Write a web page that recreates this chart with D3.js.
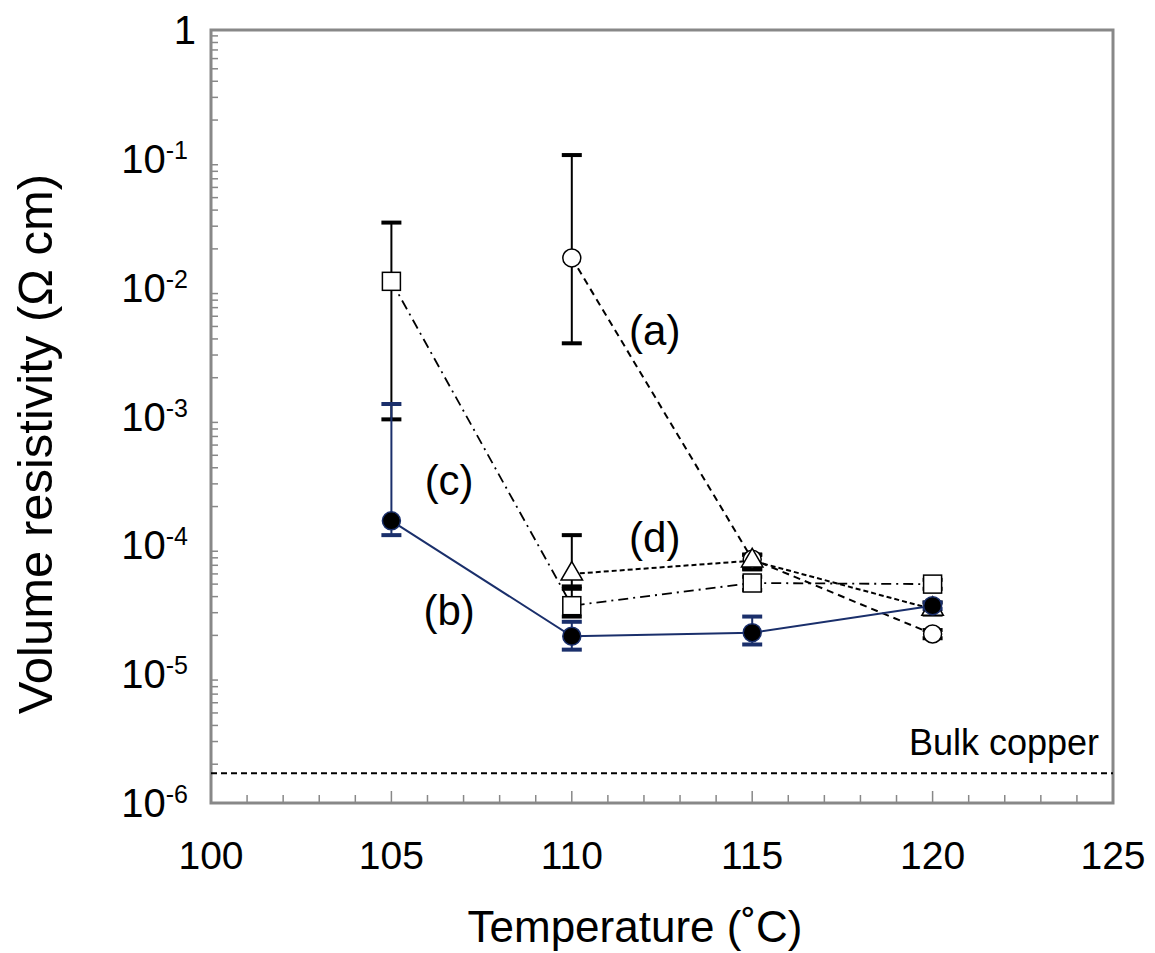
<!DOCTYPE html>
<html>
<head>
<meta charset="utf-8">
<script src="https://cdn.jsdelivr.net/npm/d3@7"></script>
<style>
  body { margin: 0; background: #fff; }
  text { font-family: "Liberation Sans", Arial, sans-serif; fill: #000; }
</style>
</head>
<body>
<div id="chart"></div>
<script>
// data
const temps = [105, 110, 115, 120];
const seriesA = [null, 1.7e-2, 7.8e-5, 2.05e-5];
const errA = [null, [3.7e-3, 0.107], [6.6e-5, 8.4e-5], [1.9e-5, 2.2e-5]];
const seriesB = [1.55e-4, 1.97e-5, 2.1e-5, 3.4e-5];
const errB = [[1.2e-4, 1.25e-3], [1.55e-5, 2.55e-5], [1.7e-5, 2.8e-5], [3.2e-5, 3.6e-5]];
const seriesC = [1.12e-2, 3.4e-5, 5.1e-5, 5.0e-5];
const errC = [[9.5e-4, 3.2e-2], [2.8e-5, 4.6e-5], [4.5e-5, 5.7e-5], [4.6e-5, 5.4e-5]];
const seriesD = [null, 6.0e-5, 7.6e-5, 3.2e-5];
const errD = [null, [4.8e-5, 1.2e-4], [6.5e-5, 8.5e-5], [2.9e-5, 3.6e-5]];
const bulkCopper = 1.7e-6;
const xTicks = [100, 105, 110, 115, 120, 125];
const yTicks = [1, 1e-1, 1e-2, 1e-3, 1e-4, 1e-5, 1e-6];
const yTickExp = ["", "-1", "-2", "-3", "-4", "-5", "-6"];
const labels = [
  {t: "(a)", x: 112.3, y: 3.6e-3},
  {t: "(d)", x: 112.3, y: 8.9e-5},
  {t: "(c)", x: 106.6, y: 2.45e-4},
  {t: "(b)", x: 106.6, y: 2.4e-5}
];

const W = 1155, H = 953;
const margin = {top: 30, right: 42, bottom: 150, left: 211};
const width = W - margin.left - margin.right,
      height = H - margin.top - margin.bottom;

const svg = d3.select("#chart").append("svg")
  .attr("width", W).attr("height", H);
const g = svg.append("g")
  .attr("transform", "translate(" + margin.left + "," + margin.top + ")");

const x = d3.scaleLinear().domain([100, 125]).range([0, width]);
const y = d3.scaleLog().domain([1e-6, 1]).range([height, 0]);

// minor ticks, inside
const minorX = d3.range(101, 125).filter(v => v % 5 != 0);
g.selectAll("line.mx").data(minorX).enter().append("line")
  .attr("x1", d => x(d)).attr("x2", d => x(d))
  .attr("y1", height).attr("y2", height - 8)
  .attr("stroke", "#888").attr("stroke-width", 1.5);
g.selectAll("line.Mx").data(xTicks.slice(1, -1)).enter().append("line")
  .attr("x1", d => x(d)).attr("x2", d => x(d))
  .attr("y1", height).attr("y2", height - 12)
  .attr("stroke", "#888").attr("stroke-width", 1.5);

const minorY = [];
for (let e = -6; e < 0; e++) for (let m = 2; m <= 9; m++) minorY.push(m * Math.pow(10, e));
g.selectAll("line.my").data(minorY).enter().append("line")
  .attr("x1", 0).attr("x2", 7)
  .attr("y1", d => y(d)).attr("y2", d => y(d))
  .attr("stroke", "#888").attr("stroke-width", 1.5);

// frame
g.append("rect").attr("x", 0).attr("y", 0)
  .attr("width", width).attr("height", height)
  .attr("fill", "none").attr("stroke", "#888").attr("stroke-width", 3);

// tick labels
g.selectAll("text.xt").data(xTicks).enter().append("text")
  .attr("x", d => x(d)).attr("y", height + 66)
  .attr("text-anchor", "middle").attr("font-size", 39)
  .text(d => d);

const yl = g.selectAll("text.yt").data(yTicks).enter().append("text")
  .attr("x", d => d == 1 ? -15 : -23).attr("y", d => y(d) + 14)
  .attr("text-anchor", "end").attr("font-size", 40);
yl.each(function(d, i) {
  const t = d3.select(this);
  if (i == 0) { t.text("1"); return; }
  t.append("tspan").text("10");
  t.append("tspan").attr("font-size", 25).attr("dy", -14).text(yTickExp[i]);
});

// axis titles
svg.append("text")
  .attr("x", 635).attr("y", 942)
  .attr("text-anchor", "middle").attr("font-size", 44)
  .text("Temperature (˚C)");
svg.append("text")
  .attr("transform", "translate(52,444) rotate(-90)")
  .attr("text-anchor", "middle").attr("font-size", 49)
  .text("Volume resistivity (Ω cm)");

// bulk copper
g.append("line")
  .attr("x1", 0).attr("x2", width)
  .attr("y1", y(bulkCopper)).attr("y2", y(bulkCopper))
  .attr("stroke", "#000").attr("stroke-width", 2).attr("stroke-dasharray", "6,4");
g.append("text")
  .attr("x", width - 14).attr("y", y(bulkCopper) - 18)
  .attr("text-anchor", "end").attr("font-size", 36)
  .text("Bulk copper");

// series
function pts(vals) {
  return temps.map((t, i) => ({t: t, v: vals[i]})).filter(d => d.v != null);
}
const line = d3.line().x(d => x(d.t)).y(d => y(d.v));
const series = [
  {vals: seriesA, err: errA, color: "#000", dash: "7,5", w: 2},
  {vals: seriesD, err: errD, color: "#000", dash: "5,3", w: 2},
  {vals: seriesC, err: errC, color: "#000", dash: "10,5,2,5", w: 1.8},
  {vals: seriesB, err: errB, color: "#1a2f6b", dash: null, w: 2}
];
series.forEach(s => {
  g.append("path").datum(pts(s.vals))
    .attr("d", line).attr("fill", "none")
    .attr("stroke", s.color).attr("stroke-width", s.w)
    .attr("stroke-dasharray", s.dash);
});

// error bars
function drawErr(errs, color, capW, lw) {
  const d = temps.map((t, i) => ({t: t, e: errs[i]})).filter(d => d.e != null);
  const eg = g.append("g").attr("stroke", color).attr("stroke-width", lw);
  eg.selectAll("line.v").data(d).enter().append("line")
    .attr("x1", d => x(d.t)).attr("x2", d => x(d.t))
    .attr("y1", d => y(d.e[0])).attr("y2", d => y(d.e[1]));
  eg.selectAll("line.lo").data(d).enter().append("line")
    .attr("x1", d => x(d.t) - capW / 2).attr("x2", d => x(d.t) + capW / 2)
    .attr("y1", d => y(d.e[0])).attr("y2", d => y(d.e[0]))
    .attr("stroke-width", lw + 2);
  eg.selectAll("line.hi").data(d).enter().append("line")
    .attr("x1", d => x(d.t) - capW / 2).attr("x2", d => x(d.t) + capW / 2)
    .attr("y1", d => y(d.e[1])).attr("y2", d => y(d.e[1]))
    .attr("stroke-width", lw + 2);
}
drawErr(errA, "#000", 20, 2);
drawErr(errC, "#000", 20, 2);
drawErr(errD, "#000", 20, 2);
drawErr(errB, "#1a2f6b", 20, 2);

// markers
g.selectAll("circle.a").data(pts(seriesA)).enter().append("circle")
  .attr("cx", d => x(d.t)).attr("cy", d => y(d.v)).attr("r", 9)
  .attr("fill", "#fff").attr("stroke", "#000").attr("stroke-width", 1.5);
g.selectAll("rect.c").data(pts(seriesC)).enter().append("rect")
  .attr("x", d => x(d.t) - 9).attr("y", d => y(d.v) - 9)
  .attr("width", 18).attr("height", 18)
  .attr("fill", "#fff").attr("stroke", "#000").attr("stroke-width", 1.5);
g.selectAll("path.d").data(pts(seriesD)).enter().append("path")
  .attr("d", d3.symbol().type(d3.symbolTriangle).size(200))
  .attr("transform", d => "translate(" + x(d.t) + "," + y(d.v) + ")")
  .attr("fill", "#fff").attr("stroke", "#000").attr("stroke-width", 1.5);
g.selectAll("circle.b").data(pts(seriesB)).enter().append("circle")
  .attr("cx", d => x(d.t)).attr("cy", d => y(d.v)).attr("r", 9)
  .attr("fill", "#000").attr("stroke", "#1a2f6b").attr("stroke-width", 1.5);

// labels
g.selectAll("text.lab").data(labels).enter().append("text")
  .attr("x", d => x(d.x)).attr("y", d => y(d.y))
  .attr("text-anchor", "middle").attr("font-size", 42)
  .text(d => d.t);
</script>
</body>
</html>
